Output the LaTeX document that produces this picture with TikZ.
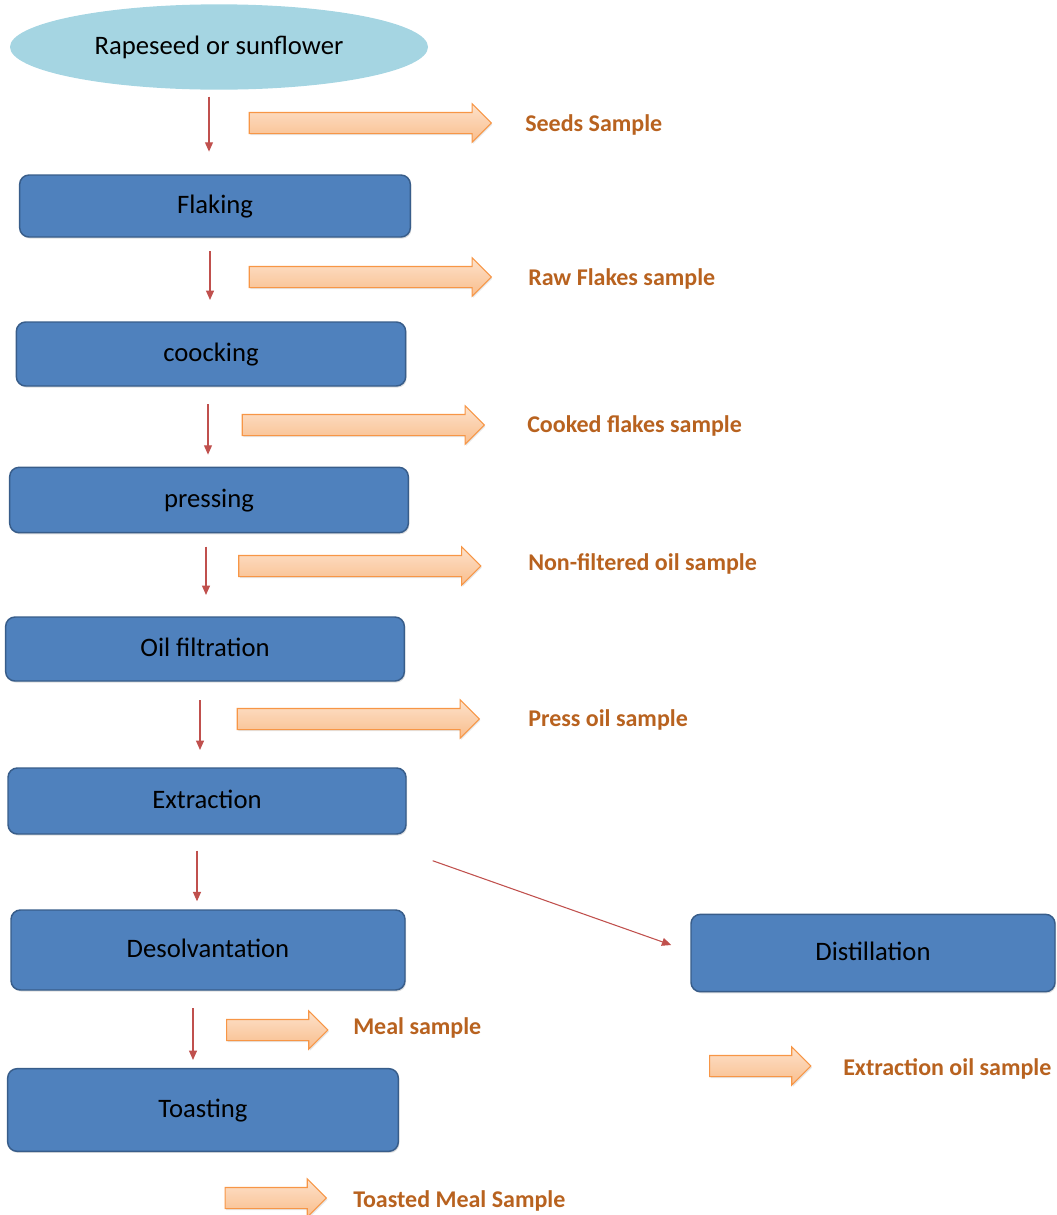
\documentclass[tikz,border=0pt]{standalone}
\usepackage{fontspec}
\setmainfont{Carlito}
\usetikzlibrary{arrows.meta, positioning, calc, shapes.geometric, shapes.arrows, shadows}
\definecolor{stepblue}{HTML}{4F81BD}
\definecolor{stepedge}{HTML}{385D8A}
\definecolor{seedblue}{HTML}{A5D5E2}
\definecolor{flowred}{HTML}{C0504D}
\definecolor{peachtop}{HTML}{FDE2CB}
\definecolor{peachbot}{HTML}{F9BD8C}
\definecolor{peachedge}{HTML}{F79646}
\definecolor{labelbrown}{HTML}{B8621F}
\tikzset{
  stepbox/.style={draw=stepedge, line width=1.1pt, rounded corners=7pt, fill=stepblue, align=center,
    font=\fontsize{20}{24}\selectfont, text depth=2pt,
    drop shadow={shadow xshift=0.8pt, shadow yshift=-1.2pt, opacity=0.25}},
  seedbox/.style={ellipse, fill=seedblue, minimum width=313.5pt, minimum height=64pt, font=\fontsize{20}{24}\selectfont},
  flow/.style={-{Triangle[length=7pt, width=6pt]}, draw=flowred, line width=0.8pt},
  sample/.style={single arrow, draw=peachedge, line width=0.8pt, top color=peachtop, bottom color=peachbot,
    inner xsep=0pt, inner ysep=7.5pt, single arrow head extend=6.5pt, single arrow tip angle=90,
    drop shadow={shadow xshift=0.8pt, shadow yshift=-1.2pt, opacity=0.2}},
  tag/.style={anchor=west, text=labelbrown, font=\bfseries\fontsize{18}{22}\selectfont, inner sep=0pt},
}
\begin{document}
\begin{tikzpicture}[x=0.75pt, y=-0.75pt]
  \useasboundingbox (0,0) rectangle (1057,1215);
  % process steps
  \node[seedbox] (seed) at (219,47) {Rapeseed or sunflower};
  \node[stepbox, minimum width=293pt, minimum height=46.5pt] (flak) at (215,206) {Flaking};
  \node[stepbox, minimum width=292pt, minimum height=48pt] (cook) at (211,354) {coocking};
  \node[stepbox, minimum width=299pt, minimum height=49pt] (press) at (209,500) {pressing};
  \node[stepbox, minimum width=299pt, minimum height=48pt] (filt) at (205,649) {Oil filtration};
  \node[stepbox, minimum width=298.5pt, minimum height=49.5pt] (extr) at (207,801) {Extraction};
  \node[stepbox, minimum width=295.5pt, minimum height=60pt] (desolv) at (208,950) {Desolvantation};
  \node[stepbox, minimum width=273pt, minimum height=58pt] (dist) at (873,953) {Distillation};
  \node[stepbox, minimum width=293pt, minimum height=62pt] (toast) at (203,1110) {Toasting};

  % sampling points
  \node[sample, minimum height=181.5pt] (s1) at (365,123) {};
  \node[sample, minimum height=181.5pt] (s2) at (365,277) {};
  \node[sample, minimum height=181.5pt] (s3) at (358,425) {};
  \node[sample, minimum height=181.5pt] (s4) at (354.5,566) {};
  \node[sample, minimum height=181.5pt] (s5) at (353,719) {};
  \node[sample, minimum height=76pt] (s6) at (272,1030) {};
  \node[sample, minimum height=76pt] (s7) at (270.5,1198) {};
  \node[sample, minimum height=76pt] (s8) at (755,1066) {};

  \node[tag] (t1) at (525,125) {Seeds Sample};
  \node[tag] (t2) at (528,279) {Raw Flakes sample};
  \node[tag] (t3) at (527,426) {Cooked flakes sample};
  \node[tag] (t4) at (528,564) {Non-filtered oil sample};
  \node[tag] (t5) at (528,720) {Press oil sample};
  \node[tag] (t6) at (353,1028) {Meal sample};
  \node[tag] (t7) at (353,1201) {Toasted Meal Sample};
  \node[tag] (t8) at (843,1069) {Extraction oil sample};

  % flow between steps
  \draw[flow, shorten <=5pt, shorten >=17pt] (seed.south -| 209,0) -- (flak.north -| 209,0);
  \draw[flow, shorten <=10pt, shorten >=16pt] (flak.south -| 210,0) -- (cook.north -| 210,0);
  \draw[flow, shorten <=13pt, shorten >=9pt] (cook.south -| 208,0) -- (press.north -| 208,0);
  \draw[flow, shorten <=10pt, shorten >=16pt] (press.south -| 206,0) -- (filt.north -| 206,0);
  \draw[flow, shorten <=14pt, shorten >=13pt] (filt.south -| 200,0) -- (extr.north -| 200,0);
  \draw[flow, shorten <=12pt, shorten >=6pt] (extr.south -| 197,0) -- (desolv.north -| 197,0);
  \draw[flow, shorten <=13pt, shorten >=6pt] (desolv.south -| 193,0) -- (toast.north -| 193,0);
  \draw[flow] ($(extr.south east)+(26,26)$) -- ($(dist.west)+(-19,-8)$);
\end{tikzpicture}
\end{document}
